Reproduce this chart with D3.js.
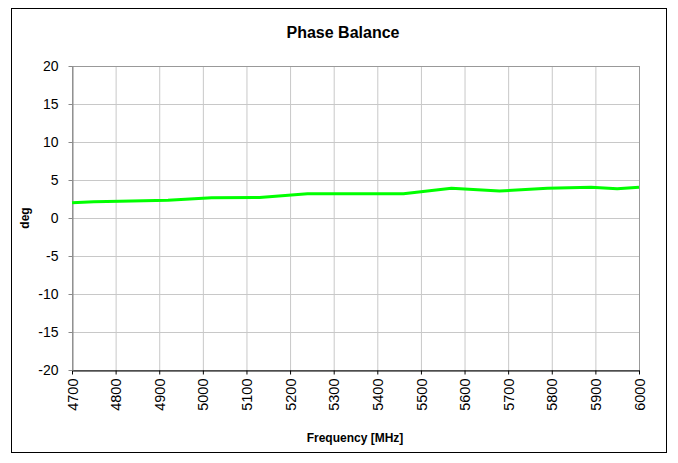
<!DOCTYPE html>
<html>
<head>
<meta charset="utf-8">
<script src="https://cdn.jsdelivr.net/npm/d3@7"></script>
<style>
  body { margin: 0; background: #fff; font-family: "Liberation Sans", Arial, sans-serif; }
</style>
</head>
<body>
<div class="container"></div>
<script>
// phase balance data
const freqs = [4700, 4750, 4810, 4920, 5020, 5130, 5240, 5350, 5460, 5570, 5680, 5790, 5890, 5950, 6000];
const phase = [2.0, 2.15, 2.2, 2.35, 2.65, 2.7, 3.2, 3.2, 3.2, 3.9, 3.55, 3.9, 4.05, 3.85, 4.05];
const xTicks = [4700, 4800, 4900, 5000, 5100, 5200, 5300, 5400, 5500, 5600, 5700, 5800, 5900, 6000];
const yTicks = [-20, -15, -10, -5, 0, 5, 10, 15, 20];

const w = 678;
const h = 463;
const plotL = 72, plotR = 639, plotT = 66, plotB = 370;

const svg = d3.select(".container")
  .append("svg")
  .attr("width", w)
  .attr("height", h);

// outer frame
svg.append("rect")
  .attr("x", 11.5)
  .attr("y", 8.5)
  .attr("width", 655)
  .attr("height", 444)
  .attr("fill", "#fff")
  .attr("stroke", "#000")
  .attr("stroke-width", 1);

const xScale = d3.scaleLinear().domain([4700, 6000]).range([plotL, plotR]);
const yScale = d3.scaleLinear().domain([-20, 20]).range([plotB, plotT]);

// grid
svg.append("g")
  .selectAll("line")
  .data(xTicks)
  .enter()
  .append("line")
  .attr("x1", (d) => xScale(d) + 0.5)
  .attr("x2", (d) => xScale(d) + 0.5)
  .attr("y1", plotT)
  .attr("y2", plotB)
  .attr("stroke", "#c8c8c8");

svg.append("g")
  .selectAll("line")
  .data(yTicks)
  .enter()
  .append("line")
  .attr("x1", plotL)
  .attr("x2", plotR)
  .attr("y1", (d) => yScale(d) + 0.5)
  .attr("y2", (d) => yScale(d) + 0.5)
  .attr("stroke", "#c8c8c8");

// plot border (top/right)
svg.append("rect")
  .attr("x", plotL + 0.5)
  .attr("y", plotT + 0.5)
  .attr("width", plotR - plotL)
  .attr("height", plotB - plotT)
  .attr("fill", "none")
  .attr("stroke", "#999");

const xAxis = d3.axisBottom(xScale)
  .tickValues(xTicks)
  .tickSize(4)
  .tickSizeOuter(0)
  .tickFormat(d3.format("d"));

const gx = svg.append("g")
  .attr("transform", "translate(0," + (plotB + 0.5) + ")")
  .call(xAxis);
gx.select(".domain").attr("stroke", "#000");
gx.selectAll(".tick line").attr("stroke", "#000");
gx.selectAll("text")
  .attr("font-family", "Liberation Sans, Arial, sans-serif")
  .attr("font-size", 14.5)
  .attr("fill", "#000")
  .attr("transform", "rotate(-90)")
  .attr("text-anchor", "end")
  .attr("x", -8)
  .attr("y", 0)
  .attr("dy", "0.35em");

const yAxis = d3.axisLeft(yScale)
  .tickValues(yTicks)
  .tickSize(4)
  .tickSizeOuter(0)
  .tickFormat((d) => String(d));

const gy = svg.append("g")
  .attr("transform", "translate(" + (plotL + 0.5) + ",0)")
  .call(yAxis);
gy.select(".domain").attr("stroke", "#888");
gy.selectAll(".tick line").attr("stroke", "#888");
gy.selectAll("text")
  .attr("font-family", "Liberation Sans, Arial, sans-serif")
  .attr("font-size", 14)
  .attr("fill", "#000")
  .attr("x", -14);

// data line
const line = d3.line()
  .x((d) => xScale(d[0]))
  .y((d) => yScale(d[1]));

svg.append("path")
  .datum(freqs.map((f, i) => [f, phase[i]]))
  .attr("d", line)
  .attr("fill", "none")
  .attr("stroke", "#00ff00")
  .attr("stroke-width", 3)
  .attr("stroke-linejoin", "round");

// titles
svg.append("text")
  .text("Phase Balance")
  .attr("x", 343)
  .attr("y", 38)
  .attr("text-anchor", "middle")
  .attr("font-size", 16)
  .attr("font-weight", "bold");

svg.append("text")
  .text("deg")
  .attr("transform", "translate(29," + yScale(0) + ") rotate(-90)")
  .attr("text-anchor", "middle")
  .attr("font-size", 12)
  .attr("font-weight", "bold");

svg.append("text")
  .text("Frequency [MHz]")
  .attr("x", 355)
  .attr("y", 442)
  .attr("text-anchor", "middle")
  .attr("font-size", 12)
  .attr("font-weight", "bold");
</script>
</body>
</html>
